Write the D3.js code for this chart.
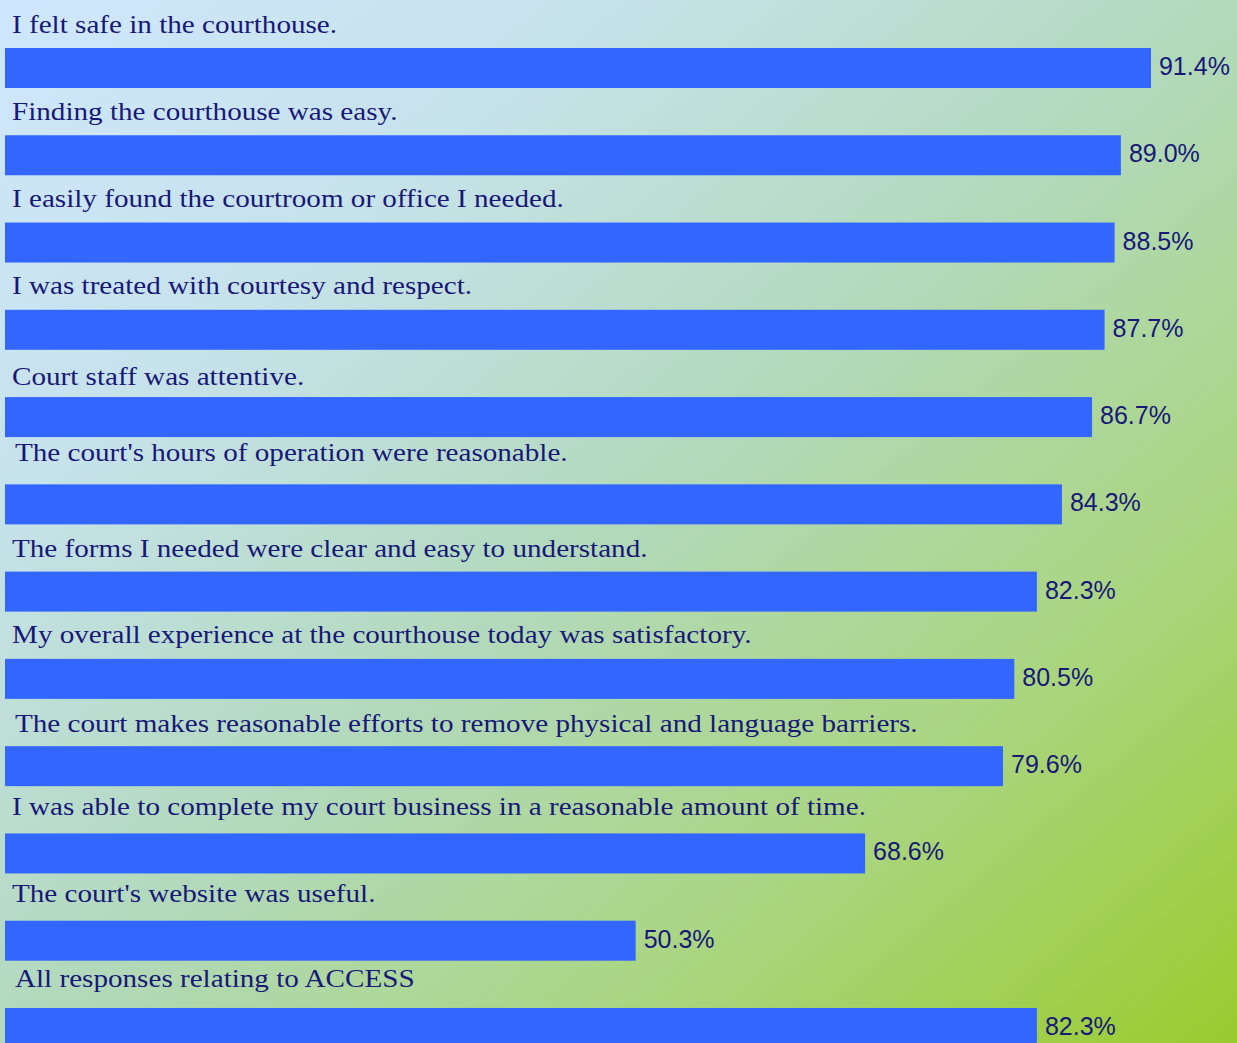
<!DOCTYPE html>
<html>
<head>
<meta charset="utf-8">
<script src="https://cdn.jsdelivr.net/npm/d3@7/dist/d3.min.js"></script>
<style>
  html, body { margin: 0; padding: 0; }
  body { width: 1237px; height: 1043px; overflow: hidden; }
  svg { display: block; }
</style>
</head>
<body>
<script>
// ---- data ----
const categories = [
  "I felt safe in the courthouse.",
  "Finding the courthouse was easy.",
  "I easily found the courtroom or office I needed.",
  "I was treated with courtesy and respect.",
  "Court staff was attentive.",
  "The court's hours of operation were reasonable.",
  "The forms I needed were clear and easy to understand.",
  "My overall experience at the courthouse today was satisfactory.",
  "The court makes reasonable efforts to remove physical and language barriers.",
  "I was able to complete my court business in a reasonable amount of time.",
  "The court's website was useful.",
  "All responses relating to ACCESS"
];
const values = [91.4, 89.0, 88.5, 87.7, 86.7, 84.3, 82.3, 80.5, 79.6, 68.6, 50.3, 82.3];
const valueLabels = ["91.4%", "89.0%", "88.5%", "87.7%", "86.7%", "84.3%", "82.3%", "80.5%", "79.6%", "68.6%", "50.3%", "82.3%"];

// ---- layout (label nudges as seen in the original) ----
const labelDx = [0, 0, 0, 0, 0, 3, 0, 0, 3, 0, 0, 3];
const labelDy = [-15, -15, -16, -16, -12, -23, -15, -16, -14, -18, -19, -21];

const W = 1237, H = 1043;
const svg = d3.select("body").append("svg").attr("width", W).attr("height", H);

const defs = svg.append("defs");
const grad = defs.append("linearGradient").attr("id", "bg")
  .attr("x1", "0").attr("y1", "0").attr("x2", "1").attr("y2", "1");
[["0", "#cfe7fd"], ["0.25", "#c6e2ea"], ["0.5", "#b2d9bb"], ["0.75", "#aad57e"], ["1", "#99cc2e"]]
  .forEach(([o, c]) => grad.append("stop").attr("offset", o).attr("stop-color", c));
svg.append("rect").attr("width", W).attr("height", H).attr("fill", "url(#bg)");

const step = 87.27;
const y = d3.scaleBand().domain(categories).range([48, 48 + step * categories.length]).padding(0);
const barH = 40;
const x = d3.scaleLinear().domain([0, 100]).range([5, 1258.8]);

const rows = categories.map((c, i) => ({ c, v: values[i], lab: valueLabels[i], i }));

const g = svg.append("g");
g.selectAll("rect.bar").data(rows).join("rect")
  .attr("class", "bar")
  .attr("x", x(0))
  .attr("y", d => y(d.c))
  .attr("width", d => x(d.v) - x(0))
  .attr("height", barH)
  .attr("fill", "#3366ff");

const cat = g.selectAll("text.cat").data(rows).join("text")
  .attr("class", "cat")
  .attr("x", d => 12 + labelDx[d.i])
  .attr("y", d => y(d.c) + labelDy[d.i])
  .attr("fill", "#181878")
  .style("font-family", "'Liberation Serif', 'Times New Roman', serif")
  .style("font-size", "26px")
  .text(d => d.c);
// widen glyphs slightly to approximate the Palatino-like face of the original
cat.each(function () {
  const len = this.getComputedTextLength();
  d3.select(this).attr("textLength", len * 1.12).attr("lengthAdjust", "spacingAndGlyphs");
});

g.selectAll("text.val").data(rows).join("text")
  .attr("class", "val")
  .attr("x", d => x(d.v) + 8)
  .attr("y", d => y(d.c) + 27)
  .attr("fill", "#181878")
  .style("font-family", "'Liberation Sans', Arial, sans-serif")
  .style("font-size", "25px")
  .text(d => d.lab);
</script>
</body>
</html>
